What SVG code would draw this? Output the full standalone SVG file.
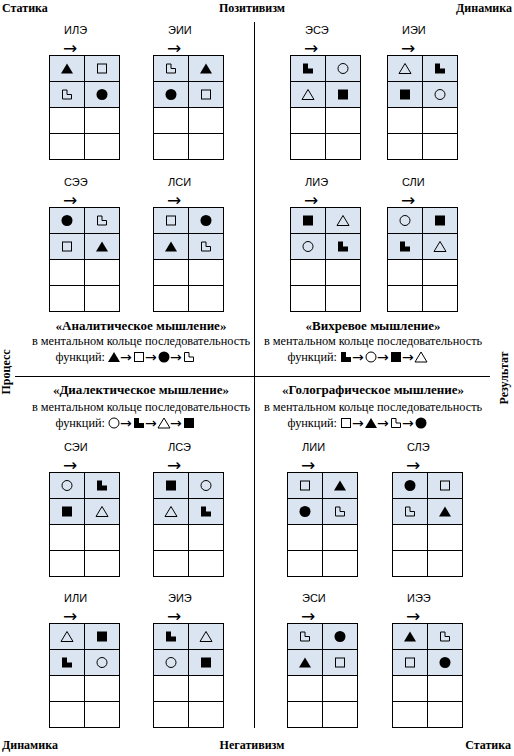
<svg xmlns="http://www.w3.org/2000/svg" width="514" height="756" viewBox="0 0 514 756">
<style>
.bg{fill:#ffffff}
.hd{font-family:"Liberation Serif","Times New Roman",serif;font-weight:bold;font-size:12px;fill:#000}
.lbl{font-family:"Liberation Sans",Arial,sans-serif;font-size:11px;fill:#000}
.arr{font-family:"DejaVu Sans",sans-serif;font-size:17px;fill:#000}
.farr{font-family:"DejaVu Sans",sans-serif;font-size:14px;fill:#000}
.tt{font-family:"Liberation Serif","Times New Roman",serif;font-weight:bold;font-size:13px;fill:#000;text-anchor:middle}
.tx{font-family:"Liberation Serif","Times New Roman",serif;font-size:12.3px;fill:#000;text-anchor:middle}
.fx{font-family:"Liberation Serif","Times New Roman",serif;font-size:12.3px;fill:#000;text-anchor:end}
.shade{fill:#dbe5f1}
.grid{fill:none;stroke:#000;stroke-width:1}
.div{stroke:#000;stroke-width:1;fill:none}
.f{fill:#000;stroke:none}
.o{fill:none;stroke:#000;stroke-width:1}
</style>
<defs>
<g id="tbl">
<rect class="shade" x="0.5" y="0.5" width="70" height="52"/>
<rect class="grid" x="0.5" y="0.5" width="70" height="104"/>
<path class="grid" d="M35.5,0.5V104.5M0.5,26.5H70.5M0.5,52.5H70.5M0.5,78.5H70.5"/>
</g>
<polygon id="triF" class="f" points="0,-5 6,5 -6,5"/>
<polygon id="triO" class="o" points="0,-5 6,5 -6,5"/>
<rect id="sqF" class="f" x="-5" y="-5" width="10" height="10"/>
<rect id="sqO" class="o" x="-4.5" y="-4.5" width="9" height="9"/>
<circle id="cirF" class="f" r="5.5"/>
<circle id="cirO" class="o" r="5"/>
<path id="LF" class="f" d="M-5,-5H0V0H5V5H-5Z"/>
<path id="LO" class="o" d="M-4.5,-4.5H0V0H4.5V4.5H-4.5Z"/>
</defs>
<rect class="bg" x="0" y="0" width="514" height="756"/>

<g id="connectors">
<line class="div" x1="254.5" y1="22" x2="254.5" y2="728"/>
<line class="div" x1="15" y1="376.5" x2="490" y2="376.5"/>
</g>

<g id="axis-labels">
<text class="hd" x="2" y="12">Статика</text>
<text class="hd" x="252" y="12" text-anchor="middle">Позитивизм</text>
<text class="hd" x="512" y="12" text-anchor="end">Динамика</text>
<text class="hd" x="2" y="749">Динамика</text>
<text class="hd" x="252" y="749" text-anchor="middle">Негативизм</text>
<text class="hd" x="511" y="749" text-anchor="end">Статика</text>
<text class="hd" transform="translate(10,372) rotate(-90)" text-anchor="middle">Процесс</text>
<text class="hd" transform="translate(508,378) rotate(-90)" text-anchor="middle">Результат</text>
</g>

<!-- Upper row 1 -->
<g id="ILE" transform="translate(49,55)">
<text class="lbl" x="15" y="-21">ИЛЭ</text><text class="arr" x="14" y="-1.5">→</text>
<use href="#tbl"/>
<use href="#triF" x="18" y="13.5"/><use href="#sqO" x="53" y="13.5"/><use href="#LO" x="18" y="39.5"/><use href="#cirF" x="53" y="39.5"/>
</g>
<g id="EII" transform="translate(153,55)">
<text class="lbl" x="15" y="-21">ЭИИ</text><text class="arr" x="14" y="-1.5">→</text>
<use href="#tbl"/>
<use href="#LO" x="18" y="13.5"/><use href="#triF" x="53" y="13.5"/><use href="#cirF" x="18" y="39.5"/><use href="#sqO" x="53" y="39.5"/>
</g>
<g id="ESE" transform="translate(290,55)">
<text class="lbl" x="15" y="-21">ЭСЭ</text><text class="arr" x="14" y="-1.5">→</text>
<use href="#tbl"/>
<use href="#LF" x="18" y="13.5"/><use href="#cirO" x="53" y="13.5"/><use href="#triO" x="18" y="39.5"/><use href="#sqF" x="53" y="39.5"/>
</g>
<g id="IEI" transform="translate(387,55)">
<text class="lbl" x="15" y="-21">ИЭИ</text><text class="arr" x="14" y="-1.5">→</text>
<use href="#tbl"/>
<use href="#triO" x="18" y="13.5"/><use href="#LF" x="53" y="13.5"/><use href="#sqF" x="18" y="39.5"/><use href="#cirO" x="53" y="39.5"/>
</g>

<!-- Upper row 2 -->
<g id="SEE" transform="translate(49,207)">
<text class="lbl" x="15" y="-21">СЭЭ</text><text class="arr" x="14" y="-1.5">→</text>
<use href="#tbl"/>
<use href="#cirF" x="18" y="13.5"/><use href="#LO" x="53" y="13.5"/><use href="#sqO" x="18" y="39.5"/><use href="#triF" x="53" y="39.5"/>
</g>
<g id="LSI" transform="translate(153,207)">
<text class="lbl" x="15" y="-21">ЛСИ</text><text class="arr" x="14" y="-1.5">→</text>
<use href="#tbl"/>
<use href="#sqO" x="18" y="13.5"/><use href="#cirF" x="53" y="13.5"/><use href="#triF" x="18" y="39.5"/><use href="#LO" x="53" y="39.5"/>
</g>
<g id="LIE" transform="translate(290,207)">
<text class="lbl" x="15" y="-21">ЛИЭ</text><text class="arr" x="14" y="-1.5">→</text>
<use href="#tbl"/>
<use href="#sqF" x="18" y="13.5"/><use href="#triO" x="53" y="13.5"/><use href="#cirO" x="18" y="39.5"/><use href="#LF" x="53" y="39.5"/>
</g>
<g id="SLI" transform="translate(387,207)">
<text class="lbl" x="15" y="-21">СЛИ</text><text class="arr" x="14" y="-1.5">→</text>
<use href="#tbl"/>
<use href="#cirO" x="18" y="13.5"/><use href="#sqF" x="53" y="13.5"/><use href="#LF" x="18" y="39.5"/><use href="#triO" x="53" y="39.5"/>
</g>

<!-- Quadrant texts -->
<g id="q-analytic">
<text class="tt" x="141" y="330">«Аналитическое мышление»</text>
<text class="tx" x="141" y="345">в ментальном кольце последовательность</text>
<text class="fx" x="105" y="361">функций:</text>
<use href="#triF" x="114" y="357"/><text class="farr" x="120" y="361.5">→</text>
<use href="#sqO" x="139" y="357"/><text class="farr" x="145" y="361.5">→</text>
<use href="#cirF" x="164" y="357"/><text class="farr" x="170" y="361.5">→</text>
<use href="#LO" x="189" y="357"/>
</g>
<g id="q-vortex">
<text class="tt" x="373" y="330">«Вихревое мышление»</text>
<text class="tx" x="373" y="345">в ментальном кольце последовательность</text>
<text class="fx" x="337" y="361">функций:</text>
<use href="#LF" x="346" y="357"/><text class="farr" x="352" y="361.5">→</text>
<use href="#cirO" x="371" y="357"/><text class="farr" x="377" y="361.5">→</text>
<use href="#sqF" x="396" y="357"/><text class="farr" x="402" y="361.5">→</text>
<use href="#triO" x="421" y="357"/>
</g>
<g id="q-dialectic">
<text class="tt" x="141" y="394">«Диалектическое мышление»</text>
<text class="tx" x="141" y="411">в ментальном кольце последовательность</text>
<text class="fx" x="105" y="427">функций:</text>
<use href="#cirO" x="114" y="423"/><text class="farr" x="120" y="427.5">→</text>
<use href="#LF" x="139" y="423"/><text class="farr" x="145" y="427.5">→</text>
<use href="#triO" x="164" y="423"/><text class="farr" x="170" y="427.5">→</text>
<use href="#sqF" x="189" y="423"/>
</g>
<g id="q-holographic">
<text class="tt" x="373" y="394">«Голографическое мышление»</text>
<text class="tx" x="373" y="411">в ментальном кольце последовательность</text>
<text class="fx" x="337" y="427">функций:</text>
<use href="#sqO" x="346" y="423"/><text class="farr" x="352" y="427.5">→</text>
<use href="#triF" x="371" y="423"/><text class="farr" x="377" y="427.5">→</text>
<use href="#LO" x="396" y="423"/><text class="farr" x="402" y="427.5">→</text>
<use href="#cirF" x="421" y="423"/>
</g>

<!-- Lower row 1 -->
<g id="SEI" transform="translate(49,472)">
<text class="lbl" x="15" y="-21">СЭИ</text><text class="arr" x="14" y="-1.5">→</text>
<use href="#tbl"/>
<use href="#cirO" x="18" y="13.5"/><use href="#LF" x="53" y="13.5"/><use href="#sqF" x="18" y="39.5"/><use href="#triO" x="53" y="39.5"/>
</g>
<g id="LSE" transform="translate(153,472)">
<text class="lbl" x="15" y="-21">ЛСЭ</text><text class="arr" x="14" y="-1.5">→</text>
<use href="#tbl"/>
<use href="#sqF" x="18" y="13.5"/><use href="#cirO" x="53" y="13.5"/><use href="#triO" x="18" y="39.5"/><use href="#LF" x="53" y="39.5"/>
</g>
<g id="LII" transform="translate(287,472)">
<text class="lbl" x="15" y="-21">ЛИИ</text><text class="arr" x="14" y="-1.5">→</text>
<use href="#tbl"/>
<use href="#sqO" x="18" y="13.5"/><use href="#triF" x="53" y="13.5"/><use href="#cirF" x="18" y="39.5"/><use href="#LO" x="53" y="39.5"/>
</g>
<g id="SLE" transform="translate(392,472)">
<text class="lbl" x="15" y="-21">СЛЭ</text><text class="arr" x="14" y="-1.5">→</text>
<use href="#tbl"/>
<use href="#cirF" x="18" y="13.5"/><use href="#sqO" x="53" y="13.5"/><use href="#LO" x="18" y="39.5"/><use href="#triF" x="53" y="39.5"/>
</g>

<!-- Lower row 2 -->
<g id="ILI" transform="translate(49,623)">
<text class="lbl" x="15" y="-21">ИЛИ</text><text class="arr" x="14" y="-1.5">→</text>
<use href="#tbl"/>
<use href="#triO" x="18" y="13.5"/><use href="#sqF" x="53" y="13.5"/><use href="#LF" x="18" y="39.5"/><use href="#cirO" x="53" y="39.5"/>
</g>
<g id="EIE" transform="translate(153,623)">
<text class="lbl" x="15" y="-21">ЭИЭ</text><text class="arr" x="14" y="-1.5">→</text>
<use href="#tbl"/>
<use href="#LF" x="18" y="13.5"/><use href="#triO" x="53" y="13.5"/><use href="#cirO" x="18" y="39.5"/><use href="#sqF" x="53" y="39.5"/>
</g>
<g id="ESI" transform="translate(287,623)">
<text class="lbl" x="15" y="-21">ЭСИ</text><text class="arr" x="14" y="-1.5">→</text>
<use href="#tbl"/>
<use href="#LO" x="18" y="13.5"/><use href="#cirF" x="53" y="13.5"/><use href="#triF" x="18" y="39.5"/><use href="#sqO" x="53" y="39.5"/>
</g>
<g id="IEE" transform="translate(392,623)">
<text class="lbl" x="15" y="-21">ИЭЭ</text><text class="arr" x="14" y="-1.5">→</text>
<use href="#tbl"/>
<use href="#triF" x="18" y="13.5"/><use href="#LO" x="53" y="13.5"/><use href="#sqO" x="18" y="39.5"/><use href="#cirF" x="53" y="39.5"/>
</g>
</svg>
